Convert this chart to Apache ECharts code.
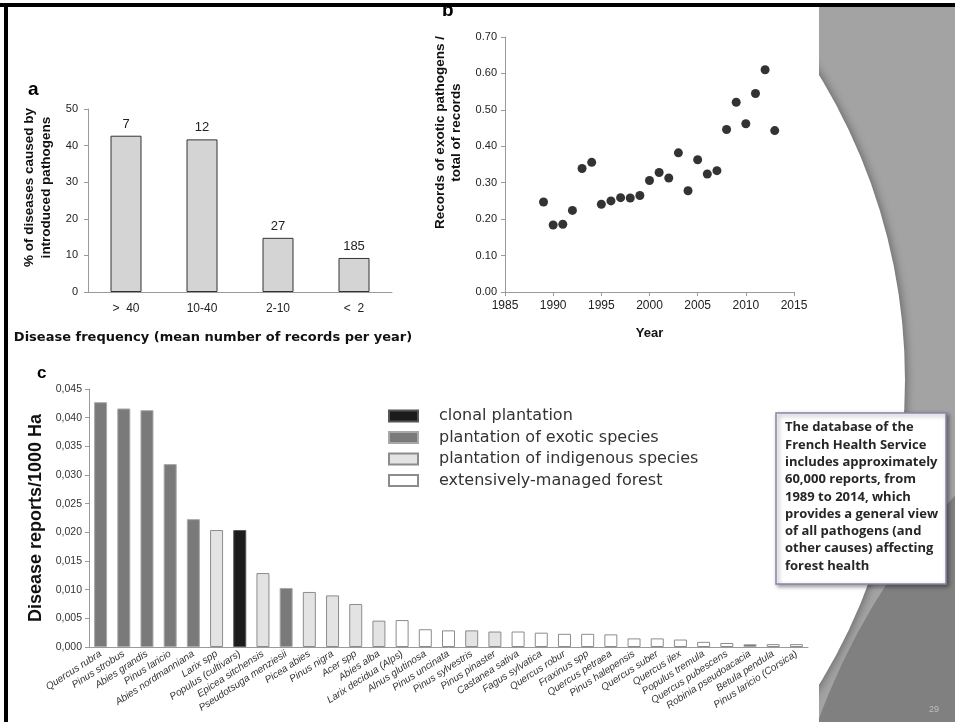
<!DOCTYPE html>
<html>
<head>
<meta charset="utf-8">
<script src="https://cdn.jsdelivr.net/npm/echarts@6/dist/echarts.min.js"></script>
<style>
  html, body { margin: 0; padding: 0; background: #fff; }
  #chart { width: 955px; height: 722px; }
</style>
</head>
<body>
<div id="chart"></div>
<script>
// panel a: share of diseases caused by introduced pathogens
const freqCats = ["> \u00a040", "10-40", "2-10", "< \u00a02"];
const freqPct = [42.7, 41.7, 14.8, 9.3];
const freqCounts = [7, 12, 27, 185];

// panel b: exotic records / total records per year
const years = [1989, 1990, 1991, 1992, 1993, 1994, 1995, 1996, 1997, 1998, 1999, 2000,
    2001, 2002, 2003, 2004, 2005, 2006, 2007, 2008, 2009, 2010, 2011, 2012, 2013];
const exoticRatio = [0.247, 0.184, 0.186, 0.224, 0.339, 0.356, 0.241, 0.250, 0.259, 0.258,
    0.265, 0.306, 0.328, 0.313, 0.382, 0.278, 0.363, 0.324, 0.333, 0.446, 0.521, 0.462,
    0.545, 0.610, 0.443];

// panel c: disease reports per 1000 ha by tree species
const species = ["Quercus rubra", "Pinus strobus", "Abies grandis", "Pinus laricio",
    "Abies nordmanniana", "Larix spp", "Populus (cultivars)", "Epicea sitchensis",
    "Pseudotsuga menziesii", "Picea abies", "Pinus nigra", "Acer spp", "Abies alba",
    "Larix decidua (Alps)", "Alnus glutinosa", "Pinus uncinata", "Pinus sylvestris",
    "Pinus pinaster", "Castanea sativa", "Fagus sylvatica", "Quercus robur", "Fraxinus spp",
    "Quercus petraea", "Pinus halepensis", "Quercus suber", "Quercus ilex", "Populus tremula",
    "Quercus pubescens", "Robinia pseudoacacia", "Betula pendula", "Pinus laricio (Corsica)"];
const reports = [0.0427, 0.0416, 0.0413, 0.0319, 0.0223, 0.0204, 0.0204, 0.0129, 0.0103,
    0.0096, 0.0090, 0.0075, 0.0046, 0.0047, 0.0031, 0.0029, 0.0029, 0.0027, 0.0027, 0.0025,
    0.0023, 0.0023, 0.0022, 0.0015, 0.0015, 0.0013, 0.0009, 0.0007, 0.0005, 0.0005, 0.0005];
const standType = ["exotic", "exotic", "exotic", "exotic", "exotic", "indigenous", "clonal",
    "indigenous", "exotic", "indigenous", "indigenous", "indigenous", "indigenous", "extensive",
    "extensive", "extensive", "indigenous", "indigenous", "extensive", "extensive", "extensive",
    "extensive", "extensive", "extensive", "extensive", "extensive", "extensive", "extensive",
    "exotic", "extensive", "extensive"];
const standTypes = ["clonal", "exotic", "indigenous", "extensive"];
const standLabels = ["clonal plantation", "plantation of exotic species",
    "plantation of indigenous species", "extensively-managed forest"];
const standStyles = [
    { color: "#1c1c1c", borderColor: "#555" },
    { color: "#7a7a7a", borderColor: "#a8a8a8" },
    { color: "#e3e3e3", borderColor: "#8c8c8c" },
    { color: "#ffffff", borderColor: "#8c8c8c" },
];

const boxText = [
    "The database of the",
    "French Health Service",
    "includes approximately",
    "60,000 reports, from",
    "1989 to 2014, which",
    "provides a general view",
    "of all pathogens (and",
    "other causes) affecting",
    "forest health",
].join("\n");

const axisGrey = "#9a9a9a";
const txt = "#222";

const chart = echarts.init(document.getElementById("chart"), null, { renderer: "canvas" });

const speciesSeries = standTypes.map((t, k) => ({
    name: standLabels[k],
    type: "bar",
    xAxisIndex: 2,
    yAxisIndex: 2,
    barWidth: 13,
    barGap: "-100%",
    itemStyle: { ...standStyles[k], borderWidth: 1 },
    data: reports.map((v, i) => (standType[i] === t ? v : "-")),
}));

const option = {
    animation: false,
    backgroundColor: "#fff",
    textStyle: { fontFamily: "Liberation Sans, Arial, sans-serif" },
    grid: [
        { left: 88, top: 109, width: 304, height: 183 },
        { left: 505, top: 37, width: 289, height: 255 },
        { left: 89, top: 389, width: 719, height: 258 },
    ],
    legend: {
        data: standLabels,
        orient: "vertical",
        left: 388,
        top: 408,
        padding: 0,
        icon: "rect",
        itemWidth: 29,
        itemHeight: 11,
        itemGap: 5.5,
        selectedMode: false,
        textStyle: { fontSize: 16, fontFamily: "DejaVu Sans", color: "#333", padding: [0, 0, 0, 16] },
    },
    xAxis: [
        {
            gridIndex: 0,
            type: "category",
            data: freqCats,
            axisLine: { lineStyle: { color: axisGrey } },
            axisTick: { length: 4, lineStyle: { color: axisGrey } },
            axisLabel: { color: txt, fontSize: 12, margin: 11 },
            name: "Disease frequency (mean number of records per year)",
            nameLocation: "middle",
            nameGap: 39,
            nameTextStyle: {
                fontWeight: "bold", fontSize: 13, fontFamily: "DejaVu Sans",
                color: "#111", padding: [0, 54, 0, 0],
            },
        },
        {
            gridIndex: 1,
            type: "value",
            min: 1985,
            max: 2015,
            interval: 5,
            axisLine: { show: true, lineStyle: { color: axisGrey } },
            axisTick: { show: true, length: 4, lineStyle: { color: axisGrey } },
            splitLine: { show: false },
            axisLabel: { color: txt, fontSize: 12, margin: 8, formatter: (v) => String(v) },
            name: "Year",
            nameLocation: "middle",
            nameGap: 35,
            nameTextStyle: { fontWeight: "bold", fontSize: 13, color: "#111" },
        },
        {
            gridIndex: 2,
            type: "category",
            data: species,
            axisLine: { lineStyle: { color: axisGrey } },
            axisTick: { length: 4, lineStyle: { color: axisGrey } },
            axisLabel: {
                color: "#333",
                fontSize: 10,
                fontStyle: "italic",
                rotate: 33,
                margin: 6,
                interval: 0,
            },
        },
    ],
    yAxis: [
        {
            gridIndex: 0,
            type: "value",
            min: 0,
            max: 50,
            interval: 10,
            axisLine: { show: true, lineStyle: { color: axisGrey } },
            axisTick: { show: true, length: 4, lineStyle: { color: axisGrey } },
            splitLine: { show: false },
            axisLabel: { color: txt, fontSize: 11, margin: 10 },
            name: "% of diseases caused by\nintroduced pathogens",
            nameLocation: "middle",
            nameGap: 33,
            nameRotate: 90,
            nameTextStyle: { fontWeight: "bold", fontSize: 13.5, lineHeight: 17, color: "#111", padding: [0, 0, 0, 26] },
        },
        {
            gridIndex: 1,
            type: "value",
            min: 0,
            max: 0.7,
            interval: 0.1,
            axisLine: { show: true, lineStyle: { color: axisGrey } },
            axisTick: { show: true, length: 4, lineStyle: { color: axisGrey } },
            splitLine: { show: false },
            axisLabel: { color: txt, fontSize: 11, margin: 8, formatter: (v) => v.toFixed(2) },
            name: "Records of exotic pathogens /\ntotal of records",
            nameLocation: "middle",
            nameGap: 41,
            nameRotate: 90,
            nameTextStyle: { fontWeight: "bold", fontSize: 13.5, lineHeight: 16, color: "#111", padding: [0, 0, 0, 64] },
        },
        {
            gridIndex: 2,
            type: "value",
            min: 0,
            max: 0.045,
            interval: 0.005,
            axisLine: { show: true, lineStyle: { color: axisGrey } },
            axisTick: { show: true, length: 4, lineStyle: { color: axisGrey } },
            splitLine: { show: false },
            axisLabel: { color: "#333", fontSize: 10.5, margin: 7, formatter: (v) => v.toFixed(3).replace(".", ",") },
            name: "Disease reports/1000 Ha",
            nameLocation: "middle",
            nameGap: 44,
            nameRotate: 90,
            nameTextStyle: { fontWeight: "bold", fontSize: 18, color: "#111" },
        },
    ],
    series: [
        {
            type: "bar",
            xAxisIndex: 0,
            yAxisIndex: 0,
            barWidth: 31,
            itemStyle: { color: "#d4d4d4", borderColor: "#333", borderWidth: 1 },
            label: {
                show: true,
                position: "top",
                distance: 5,
                color: txt,
                fontSize: 13,
                formatter: (p) => String(freqCounts[p.dataIndex]),
            },
            data: freqPct,
        },
        {
            type: "scatter",
            xAxisIndex: 1,
            yAxisIndex: 1,
            symbolSize: 9,
            itemStyle: { color: "#000" },
            data: years.map((y, i) => [y, exoticRatio[i]]),
        },
        ...speciesSeries,
    ],
    graphic: [
        // slide background: grey strip with the white arc
        { type: "rect", z: -10, shape: { x: 819, y: 6, width: 136, height: 716 }, style: { fill: "#a3a3a3" } },
        { type: "circle", z: -9, shape: { cx: 1450, cy: 950, r: 672 }, style: { fill: "#808080" } },
        {
            type: "circle",
            z: -8,
            shape: { cx: 321, cy: 380, r: 584 },
            style: { fill: "#fff", shadowBlur: 8, shadowColor: "rgba(0,0,0,0.35)", shadowOffsetX: 2 },
        },
        { type: "rect", z: -7, shape: { x: 0, y: 0, width: 819, height: 722 }, style: { fill: "#fff" } },
        // black slide frame
        { type: "rect", z: 50, shape: { x: 0, y: 3, width: 955, height: 4 }, style: { fill: "#000" } },
        { type: "rect", z: 50, shape: { x: 4, y: 3, width: 4, height: 719 }, style: { fill: "#000" } },
        // panel letters
        { type: "text", z: 60, x: 28, y: 80, style: { text: "a", font: "bold 19px Liberation Sans", fill: "#000" } },
        { type: "text", z: 40, x: 442, y: 1, style: { text: "b", font: "bold 19px Liberation Sans", fill: "#000" } },
        { type: "text", z: 60, x: 37, y: 365, style: { text: "c", font: "bold 17px Liberation Sans", fill: "#000" } },
        // note box
        {
            type: "rect",
            z: 100,
            shape: { x: 776, y: 413, width: 170, height: 171 },
            style: {
                fill: "#fff",
                stroke: "#8686a6",
                lineWidth: 1.5,
                shadowBlur: 4,
                shadowColor: "rgba(0,0,0,0.4)",
                shadowOffsetX: 2,
                shadowOffsetY: 2,
            },
        },
        {
            type: "text",
            z: 101,
            x: 785,
            y: 419,
            style: { text: boxText, font: "bold 13px Open Sans", lineHeight: 17.3, fill: "#262626" },
        },
        { type: "text", z: 60, x: 929, y: 705, style: { text: "29", font: "9px Liberation Sans", fill: "#bdbdbd" } },
    ],
};

chart.setOption(option);
</script>
</body>
</html>
